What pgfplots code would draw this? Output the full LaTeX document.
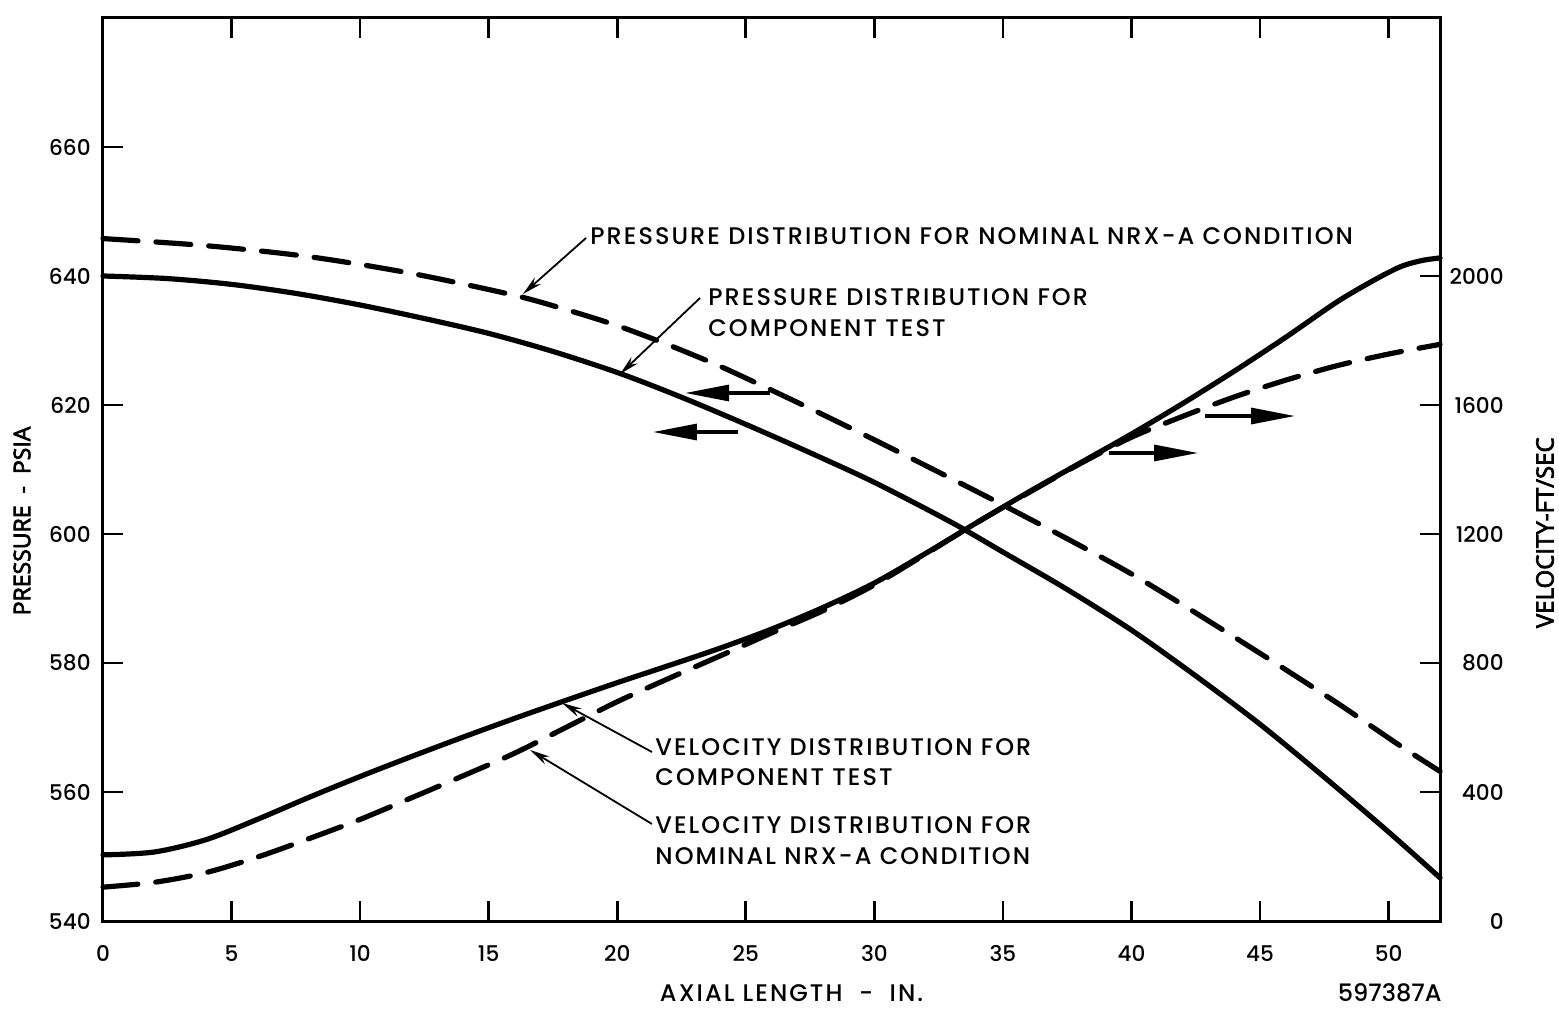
\documentclass[border=0pt]{standalone}
\usepackage{fontspec}
\setmainfont{Poppins Medium}
\newfontfamily\labfont{Poppins Medium}[LetterSpace=8.5]
\newfontfamily\axlabfont{Open Sans}[RawFeature={embolden=3}]
\usepackage{pgfplots}
\pgfplotsset{compat=1.18}
\usetikzlibrary{arrows.meta}
\newcommand\lab{\labfont\fontsize{12}{14}\selectfont}
\begin{document}
\begin{tikzpicture}
\pgfplotsset{
  common/.style={
    width=668.5pt, height=451.5pt, scale only axis,
    xmin=0, xmax=52,
    axis line style={line width=1.5pt},
    major tick length=10pt,
    tick style={line width=1.3pt, black},
    tick align=inside,
    /pgf/number format/assume math mode=true,
    /pgf/number format/1000 sep={},
    ticklabel style={font=\fontsize{10.8}{12}\selectfont},
  },
  solidc/.style={line width=2.6pt, smooth, line cap=round},
  dashc/.style={line width=2.6pt, smooth, line cap=round, dash pattern=on 17.5pt off 9pt},
}
\begin{axis}[common,
  ymin=540, ymax=680,
  xtick={0,5,...,50},
  ytick={540,560,...,660},
  xtick pos=both, xticklabel pos=lower,
  ytick pos=left,
  xticklabel style={anchor=north, inner sep=0pt, yshift=-12pt},
  yticklabel style={anchor=east, inner sep=0pt, xshift=-6pt},
  clip=false,
]
\coordinate (ll) at (rel axis cs:0,0);
\coordinate (ur) at (rel axis cs:1,1);
% pressure, nominal NRX-A (dashed)
\addplot[dashc] coordinates {(0,645.8) (4,644.7) (8,643.0) (12,640.4) (16,637.0) (18,634.8) (20,632.3) (22,629.3) (24,626.0) (26,622.3) (28,618.5) (30,614.6) (32,610.6) (35,604.5) (38,598.2) (40,593.8) (42,589.0) (45,581.5) (48,573.8) (50.4,567.3) (52,563.2)};
% pressure, component test (solid)
\addplot[solidc] coordinates {(0,640) (2.5,639.6) (5,638.7) (7.5,637.3) (10,635.5) (12.5,633.4) (15,631.1) (17.5,628.3) (20.1,624.9) (22.5,621.2) (25,617) (27.5,612.6) (30,608) (33,601.8) (35,597.2) (37.5,591.4) (40,585.1) (42.5,578) (45,570.5) (47.5,562.3) (50,553.8) (52,546.7)};
% annotations
\node[anchor=west, inner sep=0pt, font=\lab] at (axis cs:18.94,646.2) {PRESSURE DISTRIBUTION FOR NOMINAL NRX-A CONDITION};
\draw[line width=0.9pt, -{Stealth[length=10pt,width=4.5pt]}] (axis cs:18.79,645.9) -- (axis cs:16.33,637.2);
\node[anchor=west, inner sep=0pt, font=\lab] at (axis cs:23.53,636.74) {PRESSURE DISTRIBUTION FOR};
\node[anchor=west, inner sep=0pt, font=\lab] at (axis cs:23.53,631.94) {COMPONENT TEST};
\draw[line width=0.9pt, -{Stealth[length=10pt,width=4.5pt]}] (axis cs:23.22,636.59) -- (axis cs:20.11,624.8);
\node[anchor=west, inner sep=0pt, font=\lab] at (axis cs:21.47,566.98) {VELOCITY DISTRIBUTION FOR};
\node[anchor=west, inner sep=0pt, font=\lab] at (axis cs:21.47,562.33) {COMPONENT TEST};
\draw[line width=0.9pt, -{Stealth[length=10pt,width=4.5pt]}] (axis cs:21.35,566.2) -- (axis cs:17.85,573.8);
\node[anchor=west, inner sep=0pt, font=\lab] at (axis cs:21.47,554.88) {VELOCITY DISTRIBUTION FOR};
\node[anchor=west, inner sep=0pt, font=\lab] at (axis cs:21.47,550.08) {NOMINAL NRX-A CONDITION};
\draw[line width=0.9pt, -{Stealth[length=10pt,width=4.5pt]}] (axis cs:21.35,555.04) -- (axis cs:16.61,566.51);
% direction arrows
\draw[line width=1.6pt, -{Triangle[length=22pt,width=8pt]}] (axis cs:25.94,621.86) -- (axis cs:22.64,621.86);
\draw[line width=1.6pt, -{Triangle[length=22pt,width=8pt]}] (axis cs:24.70,615.81) -- (axis cs:21.39,615.81);
\draw[line width=1.6pt, -{Triangle[length=22pt,width=8pt]}] (axis cs:42.86,618.29) -- (axis cs:46.36,618.29);
\draw[line width=1.6pt, -{Triangle[length=22pt,width=8pt]}] (axis cs:39.13,612.56) -- (axis cs:42.59,612.56);
% axis labels
\node[font=\lab, inner sep=0pt] at (axis description cs:0.515,-0.080) {AXIAL LENGTH \ - \ IN.};
\node[font=\fontsize{12}{14}\selectfont, inner sep=0pt, anchor=east] at (axis description cs:1.0015,-0.080) {597387A};
\node[font=\axlabfont\fontsize{11.5}{13}\selectfont, inner sep=0pt, rotate=90] at (axis description cs:-0.0606,0.443) {PRESSURE \ - \ PSIA};
\end{axis}
\begin{axis}[common,
  ymin=0, ymax=2800,
  axis x line=none,
  axis y line*=right,
  ytick={0,400,...,2000},
  yticklabel style={anchor=east, inner sep=0pt, xshift=32pt},
  clip=false,
]
% velocity, component test (solid)
\addplot[solidc] coordinates {(0,205) (2,214) (4,252) (6,315) (8,383) (10,448) (12,510) (14,570) (16,628) (18,684) (20,739) (22,792) (24,846) (26,905) (28,972) (30,1048) (32,1140) (34,1236) (36,1330) (38,1420) (40,1510) (42,1605) (44,1705) (46,1810) (48,1920) (49.5,1990) (50.5,2030) (51.3,2048) (52,2056)};
% velocity, nominal NRX-A (dashed)
\addplot[dashc] coordinates {(0,105) (2,120) (4,150) (6,198) (8,255) (10,315) (12,382) (14,450) (16,520) (18,600) (20,680) (22,752) (24,822) (26,893) (28,962) (30,1042) (32,1138) (34,1236) (36,1328) (38,1418) (40,1500) (42,1565) (44,1625) (46,1677) (48,1722) (50,1758) (52,1788)};
\node[font=\axlabfont\fontsize{12}{13}\selectfont, inner sep=0pt, rotate=90] at (axis description cs:1.0785,0.43) {VELOCITY-FT/SEC};
\end{axis}
\pgfresetboundingbox
\path ([shift={(-51.5pt,-44pt)}]ll) rectangle ([shift={(59.5pt,9pt)}]ur);
\end{tikzpicture}
\end{document}
